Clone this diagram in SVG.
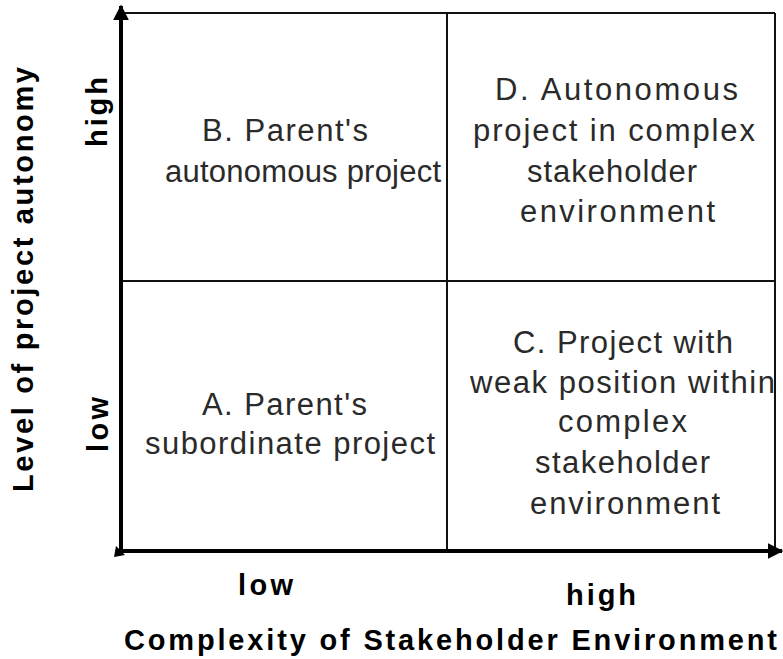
<svg xmlns="http://www.w3.org/2000/svg" width="783" height="659" viewBox="0 0 783 659">
<style>
.q{font-family:"Liberation Sans",Arial,sans-serif;font-size:31px;fill:#2a2a2a;}
.b{font-family:"Liberation Sans",Arial,sans-serif;font-size:29px;font-weight:bold;fill:#000;}
.ln{stroke:#111;stroke-width:2;fill:none;}
.ax{stroke:#000;stroke-width:4;fill:none;}
</style>
<defs>
<marker id="ah" viewBox="0 0 10 10" refX="9" refY="5" markerWidth="4" markerHeight="4" orient="auto" markerUnits="strokeWidth">
<path d="M0,0 L10,5 L0,10 z" fill="#000"/>
</marker>
</defs>
<rect width="783" height="659" fill="#fff"/>
<g id="connectors">
<line class="ln" x1="121" y1="13" x2="775" y2="13" stroke="#333"/>
<line class="ln" x1="775" y1="13" x2="775" y2="551"/>
<line class="ln" x1="447" y1="13" x2="447" y2="551"/>
<line class="ln" x1="121" y1="281" x2="775" y2="281"/>
<line class="ax" x1="121" y1="551" x2="121" y2="6" marker-end="url(#ah)"/>
<line class="ax" x1="121" y1="551" x2="782" y2="551" marker-end="url(#ah)"/>
<path d="M116,546 L114,557 L125,555 z" fill="#000"/>
</g>
<g id="nodeB">
<text class="q" x="202" y="141" textLength="166" lengthAdjust="spacing">B. Parent's</text>
<text class="q" x="165" y="182" textLength="276" lengthAdjust="spacing">autonomous project</text>
</g>
<g id="nodeD">
<text class="q" x="495" y="100" textLength="243" lengthAdjust="spacing">D. Autonomous</text>
<text class="q" x="473" y="141" textLength="282" lengthAdjust="spacing">project in complex</text>
<text class="q" x="527" y="182" textLength="170" lengthAdjust="spacing">stakeholder</text>
<text class="q" x="520" y="222" textLength="195" lengthAdjust="spacing">environment</text>
</g>
<g id="nodeA">
<text class="q" x="202" y="415" textLength="165" lengthAdjust="spacing">A. Parent's</text>
<text class="q" x="145" y="454" textLength="290" lengthAdjust="spacing">subordinate project</text>
</g>
<g id="nodeC">
<text class="q" x="513" y="353" textLength="220" lengthAdjust="spacing">C. Project with</text>
<text class="q" x="470" y="393" textLength="305" lengthAdjust="spacing">weak position within</text>
<text class="q" x="558" y="432" textLength="129" lengthAdjust="spacing">complex</text>
<text class="q" x="535" y="473" textLength="175" lengthAdjust="spacing">stakeholder</text>
<text class="q" x="530" y="514" textLength="190" lengthAdjust="spacing">environment</text>
</g>
<g id="axisY">
<text class="b" transform="translate(33,492) rotate(-90)" textLength="425" lengthAdjust="spacing">Level of project autonomy</text>
<text class="b" transform="translate(107,147) rotate(-90)" textLength="70" lengthAdjust="spacing">high</text>
<text class="b" transform="translate(108,452) rotate(-90)" textLength="55" lengthAdjust="spacing">low</text>
</g>
<g id="axisX">
<text class="b" x="238" y="595" textLength="55" lengthAdjust="spacing">low</text>
<text class="b" x="566" y="605" textLength="70" lengthAdjust="spacing">high</text>
<text class="b" x="124" y="650" textLength="653" lengthAdjust="spacing">Complexity of Stakeholder Environment</text>
</g>
</svg>
